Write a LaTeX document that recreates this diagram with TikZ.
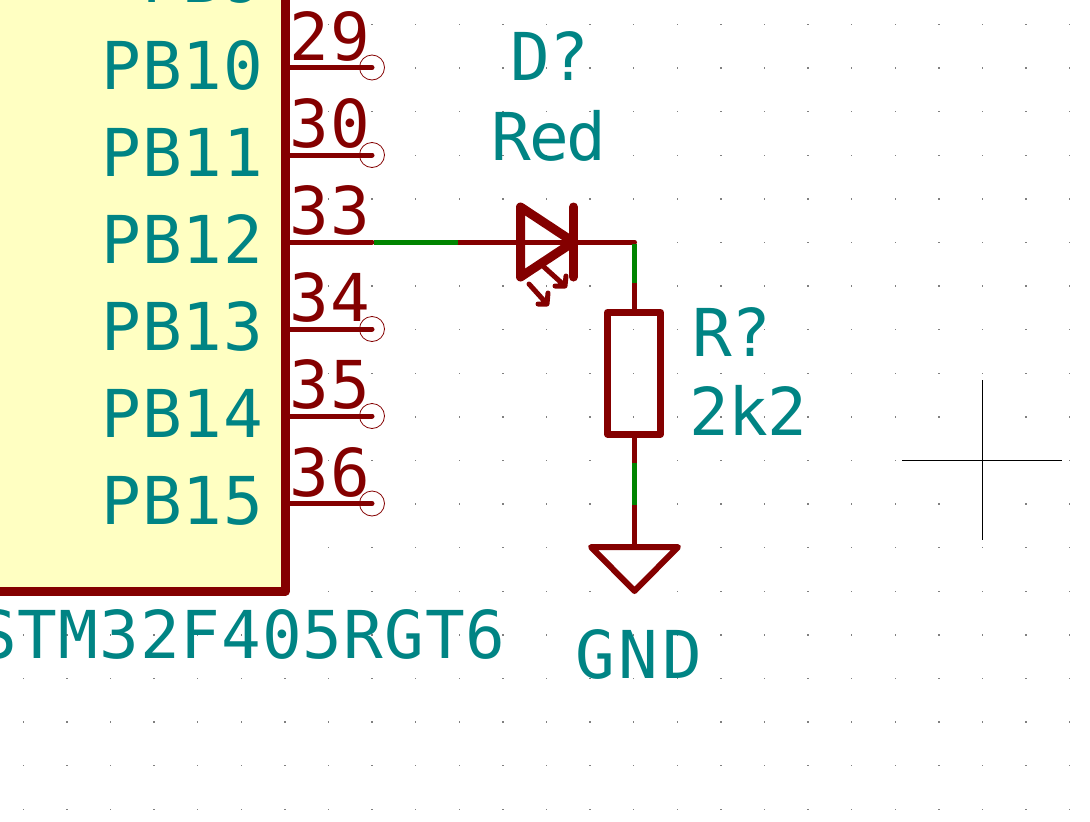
\documentclass[tikz,border=0pt]{standalone}
\usepackage{fontspec}
\setmainfont{DejaVu Sans Mono}
\newfontfamily\spA{DejaVu Sans Mono}[LetterSpace=1.5]
\newfontfamily\spC{DejaVu Sans Mono}[LetterSpace=-3]
\newfontfamily\spD{DejaVu Sans Mono}[LetterSpace=-1]
\newfontfamily\spE{DejaVu Sans Mono}[LetterSpace=6]
\definecolor{kired}{HTML}{840000}
\definecolor{kiteal}{HTML}{008484}
\definecolor{kigreen}{HTML}{008400}
\definecolor{kiyellow}{HTML}{FFFFC2}
\tikzset{
  body/.style={draw=kired,fill=kiyellow,line width=9pt,line join=round},
  pinline/.style={draw=kired,line width=5pt,line cap=round},
  nc/.style={draw=kired,line width=.8pt},
  wirered/.style={draw=kired,line width=5pt},
  wiregreen/.style={draw=kigreen,line width=5pt},
  sym/.style={draw=kired,line width=9pt,line cap=round,line join=round},
  symthin/.style={draw=kired,line width=6pt,line cap=round,line join=round},
  led/.style={draw=kired,line width=5pt,line cap=round,line join=round},
  tealtext/.style={text=kiteal,inner sep=0pt},
  pinnum/.style={text=kired,inner sep=0pt,anchor=base west},
  griddot/.style={fill=gray,draw=none},
  cross/.style={draw=black,line width=1pt}
}
\newcommand{\bigf}{\fontsize{66}{66}\selectfont}
\begin{document}
\begin{tikzpicture}[x=1pt,y=-1pt]
\path[use as bounding box,fill=white] (0,0) rectangle (1090,822);
\clip (0,0) rectangle (1090,822);
% grid
\foreach \i in {0,...,24}{\foreach \j in {0,...,18}{
  \fill[griddot] ({23.3+43.6*\i-.7},{24.5+43.6*\j-.7}) rectangle ++(1.4,1.4);
}}
% IC body
\path[body] (-20,-20) rectangle (285.5,591);
% pins
\foreach \nm/\num/\y in {a/29/67.5,b/30/155,c/33/242,d/34/329,e/35/416,f/36/503.5}{
  \coordinate (p\nm) at (286,\y);
  \coordinate (q\nm) at (372,\y);
  \draw[pinline] (p\nm) -- (q\nm);
  \node[pinnum,font=\spA\bigf] (n\nm) at (289.5,{\y-7.5}) {\num};
}
\foreach \nm in {a,b,d,e,f}{ \node[circle,nc,minimum size=25pt,inner sep=0pt] (c\nm) at (q\nm) {}; }
\foreach \nm/\txt/\y in {z/PB9/2,a/PB10/89,b/PB11/176,c/PB12/263.5,d/PB13/350.5,e/PB14/437.5,f/PB15/524.5}{
  \node[tealtext,anchor=base east,font=\spA\bigf] (l\nm) at (263.5,\y) {\txt};
}
\node[tealtext,anchor=base west,font=\spA\bigf] (ref) at (-23,658) {STM32F405RGT6};
% wires
\coordinate (g1) at (374,242);
\coordinate (g2) at (458,242);
\coordinate (cath) at (573.5,242);
\coordinate (corner) at (634.5,242);
\coordinate (r1) at (634.5,312);
\coordinate (r2) at (634.5,434);
\coordinate (v1) at (634.5,283);
\coordinate (v2) at (634.5,463);
\coordinate (v3) at (634.5,505);
\coordinate (gt) at (634.5,547);
\draw[wirered] (g2) -- (cath);
\draw[wirered,line cap=round] (cath) -- (corner);
\draw[wirered] (v1) -- (r1);
\draw[wirered] (r2) -- (v2);
\draw[wirered] (v3) -- (gt);
\draw[wiregreen] (g1) -- (g2);
\draw[wiregreen] (corner) ++(0,2) -- (v1);
\draw[wiregreen] (v2) -- (v3);
% LED
\draw[sym] (520.5,207) -- (cath) -- (520.5,277) -- cycle;
\draw[sym] (573.5,207) -- (573.5,277);
\draw[led] (529,284) -- (547,304) (548,293) -- (547,304) -- (538,304);
\draw[led] (544,267) -- (565,286) (566,276) -- (565,286) -- (555,286);
% resistor
\draw[draw=kired,line width=7pt,line join=round] (607.5,312.5) rectangle (660.5,434);
% GND
\draw[symthin] (591,547) -- (678,547) -- (634.5,591) -- cycle;
% labels
\node[tealtext,anchor=base west,font=\spD\bigf] (dref) at (510,80) {D?};
\node[tealtext,anchor=base west,font=\spC\bigf] (dval) at (491,160) {Red};
\node[tealtext,anchor=base west,font=\spD\bigf] (rref) at (692,356) {R?};
\node[tealtext,anchor=base west,font=\spD\bigf] (rval) at (689,435) {2k2};
\node[tealtext,anchor=base west,font=\spE\bigf] (gnd) at (575,678) {GND};
% cursor
\draw[cross] (902,460.3) -- (1062,460.3);
\draw[cross] (982.3,380) -- (982.3,540);
\end{tikzpicture}
\end{document}
